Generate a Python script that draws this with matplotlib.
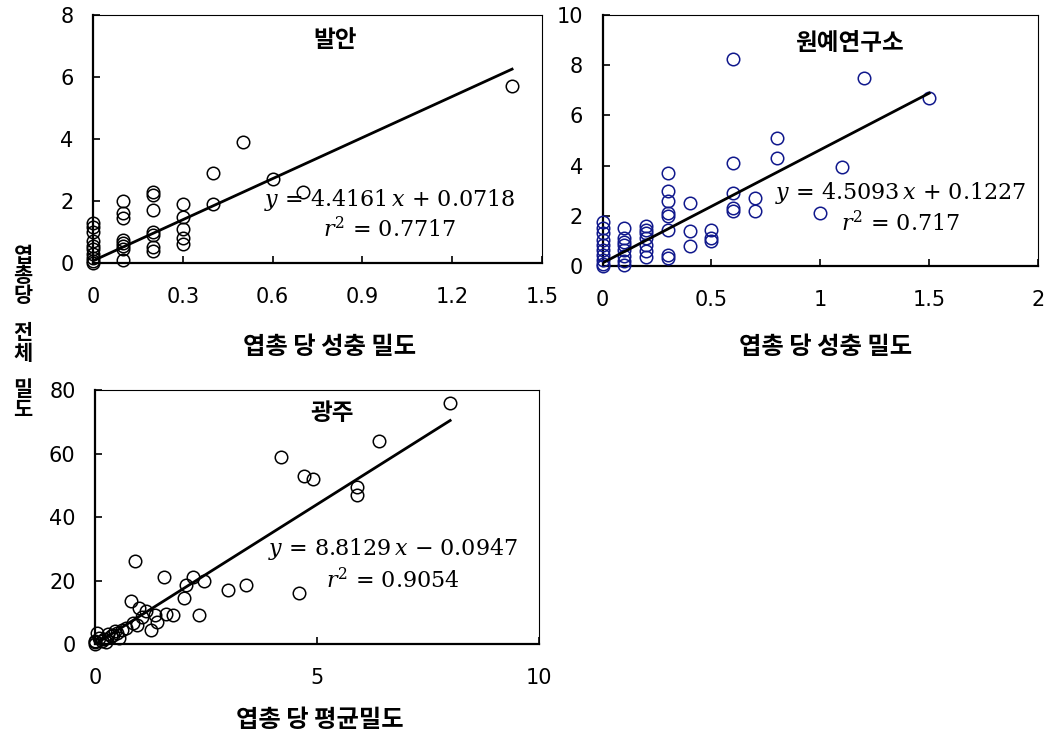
import matplotlib.pyplot as plt
import numpy as np

plt.rcParams['font.family'] = ['DejaVu Sans']
plt.rcParams['mathtext.fontset'] = 'dejavuserif'

KR = ['Noto Sans CJK KR', 'DejaVu Sans']

# 발안
x_balan = [0, 0, 0, 0, 0, 0, 0, 0, 0, 0,
           0.1, 0.1, 0.1, 0.1, 0.1, 0.1, 0.1, 0.1,
           0.2, 0.2, 0.2, 0.2, 0.2, 0.2, 0.2,
           0.3, 0.3, 0.3, 0.3, 0.3,
           0.4, 0.4, 0.5, 0.6, 0.7, 1.4]
y_balan = [1.3, 1.15, 1.0, 0.7, 0.55, 0.45, 0.3, 0.15, 0.05, 0.0,
           2.0, 1.6, 1.45, 0.75, 0.65, 0.55, 0.45, 0.1,
           2.3, 2.2, 1.7, 1.0, 0.9, 0.5, 0.4,
           1.9, 1.5, 1.1, 0.8, 0.6,
           2.9, 1.9, 3.9, 2.7, 2.3, 5.7]

# 원예연구소
x_won = [0, 0, 0, 0, 0, 0, 0, 0, 0, 0,
         0.1, 0.1, 0.1, 0.1, 0.1, 0.1, 0.1, 0.1,
         0.2, 0.2, 0.2, 0.2, 0.2, 0.2, 0.2,
         0.3, 0.3, 0.3, 0.3, 0.3, 0.3, 0.3, 0.3,
         0.4, 0.4, 0.4, 0.5, 0.5, 0.5,
         0.6, 0.6, 0.6, 0.6, 0.6, 0.7, 0.7, 0.8, 0.8,
         1.0, 1.1, 1.2, 1.5]
y_won = [1.75, 1.5, 1.3, 1.05, 0.85, 0.65, 0.45, 0.25, 0.1, 0.0,
         1.5, 1.1, 0.95, 0.85, 0.65, 0.4, 0.2, 0.05,
         1.6, 1.45, 1.3, 1.1, 0.85, 0.6, 0.35,
         3.7, 3.0, 2.6, 2.1, 2.0, 1.45, 0.45, 0.3,
         2.5, 1.4, 0.8, 1.45, 1.1, 1.0,
         8.25, 4.1, 2.9, 2.3, 2.2, 2.7, 2.2, 5.1, 4.3,
         2.1, 3.95, 7.5, 6.7]

# 광주
x_gj = [8.0, 6.4, 4.2, 4.7, 4.9, 5.9, 5.9, 0.9, 1.55, 2.2, 2.45, 2.05, 2.0,
        3.0, 3.4, 4.6, 2.35, 0.8, 1.0, 1.15, 1.35, 1.6, 1.75, 1.4, 1.25,
        0.85, 0.7, 0.5, 0.45, 0.35, 0.3, 0.2, 0.1, 0.05, 0.0, 0.0, 0.0,
        0.55, 0.6, 0.25, 0.15, 1.05, 0.95, 0.4]
y_gj = [76, 64, 59, 53, 52, 49.5, 47, 26, 21, 21, 20, 18.5, 14.5,
        17, 18.5, 16, 9, 13.5, 11.5, 10.5, 9, 9.5, 9, 7, 4.5,
        6.5, 5, 3.5, 4, 2.5, 3, 1.5, 2, 3.5, 0.5, 0, 1,
        2, 4.5, 0.5, 1, 8.5, 6, 2.8]

fits = {'balan': (4.4161, 0.0718, 0.7717),
        'won': (4.5093, 0.1227, 0.717),
        'gj': (8.8129, -0.0947, 0.9054)}

titles = ['발안', '원예연구소', '광주']
xlabels = ['엽총 당 성충 밀도', '엽총 당 성충 밀도', '엽총 당 평균밀도']
ylabel_words = ['엽총당', '전체', '밀도']


def panel(ax, x, y, fit, title, color, xticks, xticklabels, yticks,
          title_pos, eq_pos):
  x = np.array(x)
  y = np.array(y)
  slope, icpt, r2 = fit

  ax.plot(x, y, 'o', ms=9, mfc='none', mec=color, mew=1.1, clip_on=False,
          zorder=3)
  xs = np.array([x.min(), x.max()])
  ax.plot(xs, slope * xs + icpt, color='black', lw=2.0, zorder=4)

  ax.set_xlim(xticks[0], xticks[-1])
  ax.set_ylim(yticks[0], yticks[-1])
  ax.set_xticks(xticks, xticklabels)
  ax.set_yticks(yticks, [str(v) for v in yticks])

  for s in ['left', 'bottom']:
    ax.spines[s].set_linewidth(1.6)
  for s in ['top', 'right']:
    ax.spines[s].set_linewidth(0.8)
  ax.tick_params(direction='in', length=5, width=1.2, labelsize=15)
  ax.tick_params(axis='x', pad=17)
  ax.tick_params(axis='y', pad=14)

  ax.text(title_pos[0], title_pos[1], title, transform=ax.transAxes,
          ha='center', va='center', fontsize=17, fontweight='bold',
          family=KR)
  sign = '+' if icpt >= 0 else '\u2212'
  eq = '$y$ = %s$\\,x$ %s %s' % (slope, sign, abs(icpt))
  ax.text(eq_pos[0], eq_pos[1], eq, transform=ax.transAxes,
          ha='center', va='center', fontsize=16, family='DejaVu Serif')
  ax.text(eq_pos[0], eq_pos[2], '$r^2$ = %s' % r2, transform=ax.transAxes,
          ha='center', va='center', fontsize=16, family='DejaVu Serif')


fig = plt.figure(figsize=(10.51, 7.4), dpi=100, facecolor='w')

ax1 = fig.add_axes([0.0885, 0.6446, 0.4272, 0.3351])
panel(ax1, x_balan, y_balan, fits['balan'], titles[0], 'black',
      [0, 0.3, 0.6, 0.9, 1.2, 1.5], ['0', '0.3', '0.6', '0.9', '1.2', '1.5'],
      [0, 2, 4, 6, 8], (0.539, 0.9), (0.661, 0.254, 0.133))

ax2 = fig.add_axes([0.5733, 0.6405, 0.4144, 0.3392])
panel(ax2, x_won, y_won, fits['won'], titles[1], '#10188c',
      [0, 0.5, 1, 1.5, 2], ['0', '0.5', '1', '1.5', '2'],
      [0, 2, 4, 6, 8, 10], (0.566, 0.89), (0.685, 0.291, 0.171))

ax3 = fig.add_axes([0.0904, 0.1297, 0.4224, 0.3432])
panel(ax3, x_gj, y_gj, fits['gj'], titles[2], 'black',
      [0, 5, 10], ['0', '5', '10'],
      [0, 20, 40, 60, 80], (0.534, 0.909), (0.671, 0.374, 0.248))

fig.text(330 / 1051, 1 - 347 / 740, xlabels[0], ha='center', va='center',
         fontsize=17.5, fontweight='bold', family=KR)
fig.text(826 / 1051, 1 - 347 / 740, xlabels[1], ha='center', va='center',
         fontsize=17.5, fontweight='bold', family=KR)
fig.text(320 / 1051, 1 - 720 / 740, xlabels[2], ha='center', va='center',
         fontsize=17.5, fontweight='bold', family=KR)

# stacked vertical y label
ypix = 256
for word in ylabel_words:
  for ch in word:
    fig.text(23 / 1051, 1 - ypix / 740, ch, ha='center', va='center',
             fontsize=15, fontweight='bold', family=KR)
    ypix += 20
  ypix += 17

fig.savefig('out.png', dpi=100, facecolor='w')
